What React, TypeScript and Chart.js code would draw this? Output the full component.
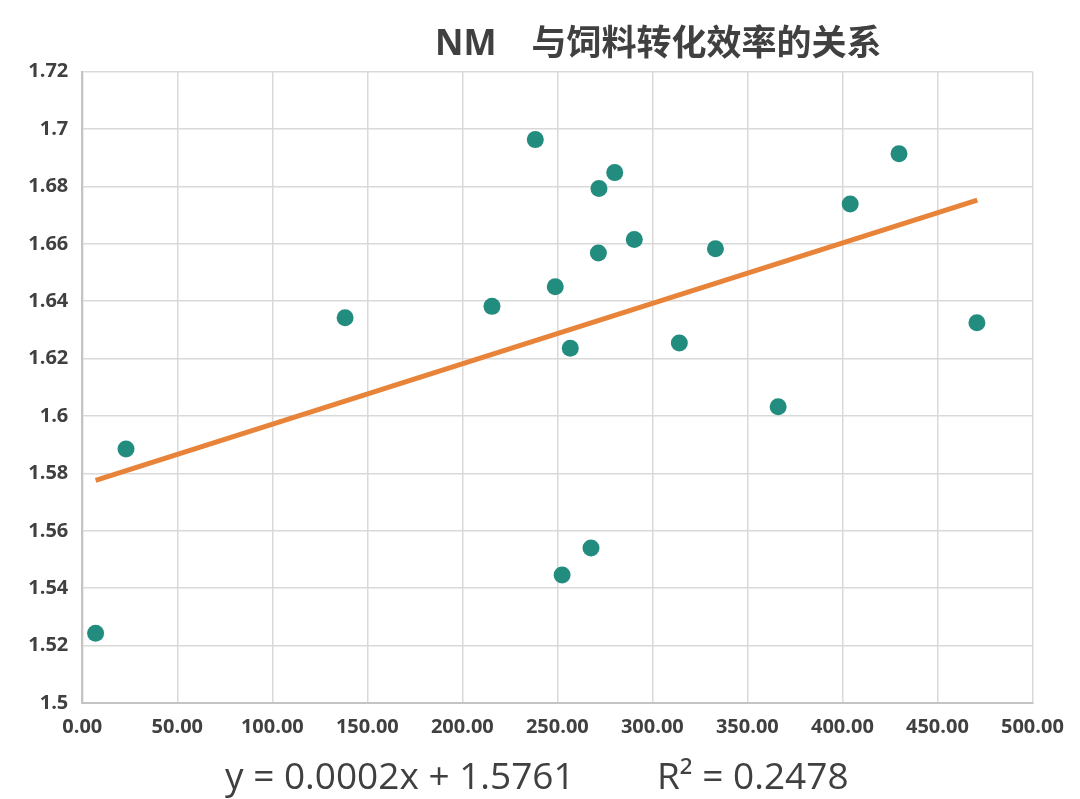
import React, { useEffect, useRef } from "react";
import { Chart, registerables } from "chart.js";

Chart.register(...registerables);

const title = "NM　与饲料转化效率的关系";
const xValues = [7.0, 23.0, 138.3, 215.6, 238.4, 248.9, 256.8, 271.6, 271.9, 280.2, 290.5, 314.2, 333.2, 267.7, 252.5, 366.2, 404.1, 429.8, 470.8];
const yValues = [1.5243, 1.5885, 1.6342, 1.6382, 1.6963, 1.645, 1.6236, 1.6568, 1.6793, 1.6848, 1.6615, 1.6254, 1.6583, 1.554, 1.5446, 1.6032, 1.6739, 1.6914, 1.6325];
const trendX = [7, 471];
const trendY = [1.5776, 1.6752];
const xTicks = { min: 0, max: 500, step: 50 };
const yTicks = { min: 1.5, max: 1.72, step: 0.02 };
const equationText = "y = 0.0002x + 1.5761";
const r2Text = "R² = 0.2478";

export default function App() {
  const ref = useRef<HTMLCanvasElement | null>(null);
  useEffect(() => {
    document.body.style.margin = "0";
    const ctx = ref.current!;
    const tickFont = { family: "'Open Sans', sans-serif", size: 20, weight: "bold" as const };
    const chart = new Chart(ctx, {
      type: "scatter",
      data: {
        datasets: [
          {
            type: "line",
            data: trendX.map((x, i) => ({ x, y: trendY[i] })),
            borderColor: "#e8843a",
            borderWidth: 5,
            pointRadius: 0,
            fill: false,
            order: 2,
          } as any,
          {
            data: xValues.map((x, i) => ({ x, y: yValues[i] })),
            backgroundColor: "#228c7e",
            borderColor: "#228c7e",
            borderWidth: 0,
            pointRadius: 8.5,
            order: 1,
          },
        ],
      },
      options: {
        animation: false,
        responsive: false,
        layout: { padding: { left: 0, top: 71.6, right: 47.6, bottom: 50 } },
        plugins: { legend: { display: false }, tooltip: { enabled: false }, title: { display: false } },
        scales: {
          x: {
            type: "linear",
            min: xTicks.min,
            max: xTicks.max,
            ticks: {
              stepSize: xTicks.step,
              padding: 12,
              color: "#404040",
              font: tickFont,
              callback: (v: any) => Number(v).toFixed(2),
              maxRotation: 0,
              autoSkip: false,
            },
            grid: { color: "#d9d9d9", lineWidth: 1.5, drawTicks: false },
            border: { color: "#c4c4c4", width: 2 },
            afterFit: (s: any) => { s.height = 46; },
          },
          y: {
            type: "linear",
            min: yTicks.min,
            max: yTicks.max,
            ticks: {
              stepSize: yTicks.step,
              padding: 14,
              color: "#404040",
              font: tickFont,
              autoSkip: false,
              callback: (v: any) => String(Number(Number(v).toFixed(2))),
            },
            grid: { color: "#d9d9d9", lineWidth: 1.5, drawTicks: false },
            border: { color: "#c4c4c4", width: 2 },
            afterFit: (s: any) => { s.width = 82.3; },
          },
        },
      },
    });
    return () => chart.destroy();
  }, []);

  return (
    <div style={{ position: "relative", width: 1080, height: 799, background: "#fff" }}>
      <canvas ref={ref} width={1080} height={799} style={{ position: "absolute", left: 0, top: 0 }} />
      <div
        style={{
          position: "absolute",
          left: 435,
          top: 18,
          fontFamily: "'Open Sans', 'Noto Sans CJK SC', sans-serif",
          fontWeight: "bold",
          fontSize: 35,
          lineHeight: "48px",
          color: "#404040",
          whiteSpace: "nowrap",
        }}
      >
        {title}
      </div>
      <div
        style={{
          position: "absolute",
          left: 225,
          top: 751,
          fontFamily: "'Open Sans', sans-serif",
          fontSize: 37,
          lineHeight: "48px",
          color: "#404040",
          whiteSpace: "nowrap",
        }}
      >
        {equationText}
      </div>
      <div
        style={{
          position: "absolute",
          left: 657,
          top: 751,
          fontFamily: "'Open Sans', sans-serif",
          fontSize: 37,
          lineHeight: "48px",
          color: "#404040",
          whiteSpace: "nowrap",
        }}
      >
        {r2Text}
      </div>
    </div>
  );
}
